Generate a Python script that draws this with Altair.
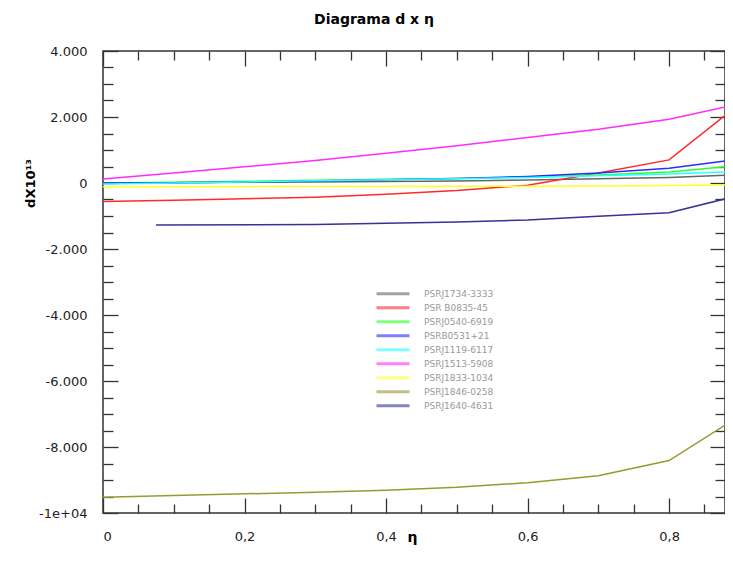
import altair as alt
import pandas as pd

# ---- data ----
eta = [0.0, 0.1, 0.2, 0.3, 0.4, 0.5, 0.6, 0.7, 0.8, 0.9]
names = ["PSRJ1734-3333", "PSR B0835-45", "PSRJ0540-6919", "PSRB0531+21",
         "PSRJ1119-6117", "PSRJ1513-5908", "PSRJ1833-1034", "PSRJ1846-0258",
         "PSRJ1640-4631"]
colors = ["#666666", "#ff2a2a", "#2aff2a", "#2a2aff", "#2affff",
          "#ff2aff", "#ffff2a", "#999933", "#333399"]

d_1734 = [0, 10, 20, 30, 45, 60, 90, 130, 170, 250]
d_0835 = [-560, -520, -480, -430, -340, -230, -70, 300, 700, 2400]
d_0540 = [0, 20, 50, 80, 110, 140, 180, 240, 330, 540]
d_0531 = [0, 10, 30, 60, 100, 140, 200, 300, 450, 720]
d_1119 = [-30, 0, 30, 70, 100, 130, 170, 220, 270, 350]
d_1513 = [120, 300, 490, 680, 900, 1130, 1380, 1630, 1930, 2400]
d_1833 = [-110, -110, -110, -105, -105, -100, -100, -90, -75, -55]
d_1846 = [-9520, -9470, -9420, -9370, -9310, -9220, -9080, -8870, -8410, -7050]
eta_1640 = [0.075, 0.3, 0.4, 0.5, 0.6, 0.7, 0.8, 0.9]
d_1640 = [-1270, -1260, -1220, -1180, -1120, -1010, -900, -370]

series = [
    (names[0], eta, d_1734), (names[1], eta, d_0835), (names[2], eta, d_0540),
    (names[3], eta, d_0531), (names[4], eta, d_1119), (names[5], eta, d_1513),
    (names[6], eta, d_1833), (names[7], eta, d_1846), (names[8], eta_1640, d_1640),
]
rows = []
for name, xs_, ys_ in series:
    for xv, yv in zip(xs_, ys_):
        rows.append({"pulsar": name, "eta": xv, "d": yv})
df = pd.DataFrame(rows)

# ---- scales / ticks ----
W, H = 622, 462
xs = alt.Scale(domain=[0, 0.879], nice=False, zero=False)
ys = alt.Scale(domain=[-10000, 4000], nice=False, zero=False)
x_major = [0, 0.2, 0.4, 0.6, 0.8]
x_minor = [round(i * 0.05, 2) for i in range(18) if i % 4 != 0]
y_major = list(range(-10000, 4001, 2000))
y_minor = [v for v in range(-10000, 4001, 500) if v % 2000 != 0]

FONT = "DejaVu Sans"
TICK = "#333333"

x_label_expr = "datum.value == 0 ? '0' : replace(format(datum.value, '.1f'), '.', ',')"
y_label_expr = ("datum.value == -10000 ? '-1e+04' : (datum.value < 0 ? '-' : '') + "
                "replace(format(abs(datum.value), ','), ',', '.')")


def tick_axis(orient, offset, values, size):
    return alt.Axis(orient=orient, offset=offset, values=values, tickSize=size,
                    tickColor=TICK, tickWidth=1.3, labels=False, domain=False,
                    grid=False, title=None)


lines = alt.Chart(df).mark_line(strokeWidth=1.5, clip=True).encode(
    x=alt.X("eta:Q", scale=xs, axis=alt.Axis(
        orient="bottom", values=x_major, labelExpr=x_label_expr, ticks=False,
        domain=False, grid=False, labelFont=FONT, labelFontSize=13,
        labelColor="#222", labelPadding=17, title="η", titleFont=FONT,
        titleFontSize=14, titleFontWeight="bold", titleX=309, titleY=24,
        titleBaseline="middle")),
    y=alt.Y("d:Q", scale=ys, axis=alt.Axis(
        orient="left", values=y_major, labelExpr=y_label_expr, ticks=False,
        domain=False, grid=False, labelFont=FONT, labelFontSize=13,
        labelColor="#222", labelPadding=16, title="dX10¹³", titleFont=FONT,
        titleFontSize=13, titleFontWeight="bold", titleX=-73, titleY=132,
        titleBaseline="middle")),
    color=alt.Color("pulsar:N", sort=names,
                    scale=alt.Scale(domain=names, range=colors),
                    legend=alt.Legend(
                        orient="none", legendX=272, legendY=236, title=None,
                        symbolType="stroke", symbolSize=1089,
                        symbolStrokeWidth=3, symbolOpacity=0.6,
                        clipHeight=13.6, rowPadding=0, padding=0,
                        labelFont=FONT, labelFontSize=9, labelColor="#999999",
                        labelOffset=13)),
    order=alt.Order("eta:Q"),
)


def tick_layer(xa, ya):
    return alt.Chart(df).mark_point(opacity=0).encode(
        x=alt.X("eta:Q", scale=xs, axis=xa),
        y=alt.Y("d:Q", scale=ys, axis=ya),
    )


layers = [
    lines,
    tick_layer(tick_axis("top", -H, x_major, 15), tick_axis("right", -W, y_major, 15)),
    tick_layer(tick_axis("top", -H, x_minor, 9), tick_axis("right", -W, y_minor, 10)),
    tick_layer(tick_axis("bottom", -H, x_major, 15), tick_axis("left", -W, y_major, 15)),
    tick_layer(tick_axis("bottom", -H, x_minor, 9), tick_axis("left", -W, y_minor, 10)),
]

chart = alt.layer(*layers).resolve_axis(
    x="independent", y="independent"
).properties(
    width=W, height=H,
    autosize=alt.AutoSizeParams(type="none"),
    padding={"left": 95, "top": 43, "right": 0, "bottom": 34},
    title=alt.Title("Diagrama d x η", font=FONT, fontSize=14,
                    fontWeight="bold", color="#000", dx=-40, offset=18,
                    anchor="middle"),
).configure_view(stroke="#333333", strokeWidth=1.5)

chart.save("out.html", embed_options={"renderer": "svg", "actions": False})
